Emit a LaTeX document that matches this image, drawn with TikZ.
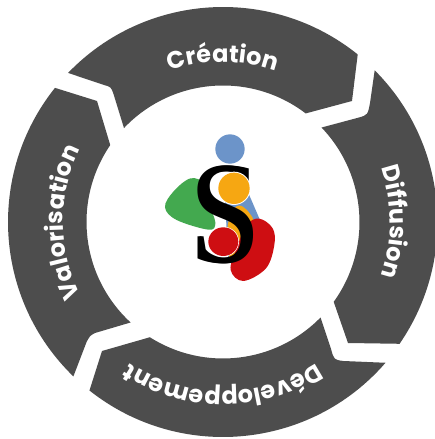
\documentclass[tikz,border=0pt]{standalone}
\usepackage{fontspec}
\usetikzlibrary{decorations.text}
\newfontfamily\ringfont{Poppins}
\newfontfamily\essefont{Liberation Serif}
\newcommand{\ringstyle}{\ringfont\bfseries\fontsize{24}{24}\selectfont\color{white}}
\definecolor{ringgrey}{HTML}{4D4D4D}
\definecolor{logoblue}{HTML}{6C94C9}
\definecolor{logoorange}{HTML}{F6A712}
\definecolor{logogreen}{HTML}{43A94F}
\definecolor{logored}{HTML}{CE0E12}
\tikzset{
  segment/.style={fill=ringgrey},
  blob/.style={smooth cycle,tension=0.6},
  essestyle/.style={inner sep=0pt,font=\essefont\fontsize{146}{146}\selectfont,xscale=0.86,transform shape}
}
\begin{document}
\begin{tikzpicture}[x=1pt,y=1pt]
\useasboundingbox (0,0) rectangle (435,439);
\fill[white] (0,0) rectangle (435,439);
\coordinate (C) at (223,217);
% Creation
\fill[segment] ([shift={(136.1:215)}]C) arc[start angle=136.1,end angle=51.2,radius=215]
  -- (352,338) -- ([shift={(52.7:136.5)}]C) arc[start angle=52.7,end angle=136.5,radius=136.5]
  -- (113.5,345) .. controls (111,352) .. (104,354) -- cycle;
% Diffusion
\fill[segment] ([shift={(45:214.5)}]C) arc[start angle=45,end angle=-34.6,radius=214.5]
  -- (348,96) -- ([shift={(-35.8:136.5)}]C) arc[start angle=-35.8,end angle=43.8,radius=136.5]
  -- (358.3,321.3) .. controls (367.7,324) .. (370,336) -- cycle;
% Developpement
\fill[segment] ([shift={(-40.9:215)}]C) arc[start angle=-40.9,end angle=-128.4,radius=215]
  -- (102,88) -- ([shift={(-122.4:136.5)}]C) arc[start angle=-122.4,end angle=-44.4,radius=136.5]
  -- (331,90) .. controls (334,79.3) .. (343.3,78) -- cycle;
% Valorisation
\fill[segment] ([shift={(141.4:215)}]C) arc[start angle=141.4,end angle=225.9,radius=215]
  -- (86.7,97.3) .. controls (90,103.3) .. (95,106) -- ([shift={(227.4:136.5)}]C)
  arc[start angle=227.4,end angle=145.7,radius=136.5] -- (97,338) -- cycle;
% Labels
\path[decorate,decoration={text along path,text align=center,text={|\ringstyle|Cr{é}ation}}]
  ([shift={(130:160)}]C) arc[start angle=130,end angle=50,radius=160];
\path[decorate,decoration={text along path,text align=center,text={|\ringstyle|Diffusion}}]
  ([shift={(45:167)}]C) arc[start angle=45,end angle=-45,radius=167];
\path[decorate,decoration={text along path,text align=center,text={|\ringstyle|D{é}veloppement}}]
  ([shift={(-35:169)}]C) arc[start angle=-35,end angle=-145,radius=169];
\path[decorate,decoration={text along path,text align=center,text={|\ringstyle|Valorisation}}]
  ([shift={(225:160)}]C) arc[start angle=225,end angle=135,radius=160];
% Logo
\begin{scope}[x=0.3333pt,y=-0.3333pt,shift={(140pt,319pt)}]
  \fill[logoblue] (270,87) circle[radius=44];
  \fill[logoblue] (255,240) -- (322,212) -- (360,300) -- (300,400) -- (265,418) -- cycle;
  \fill[logogreen] plot[blob] coordinates {(152,175) (195,195) (215,270) (226,312) (205,329) (110,300) (75,262) (100,215)};
  \fill[logoorange] plot[blob] coordinates {(278,272) (305,258) (340,300) (325,350) (300,400) (270,420) (262,330)};
  \fill[logored] plot[blob] coordinates {(358,296) (398,325) (403,375) (378,445) (310,483) (272,450) (290,385) (320,315)};
  \node[essestyle] (esse) at (254,286) {S};
  \node[essestyle] (esseb) at (258,286) {S};
  \fill[white] (282,205) circle[radius=50];
  \fill[logoorange] (282,205) circle[radius=47];
  \fill[white] (250,365) ellipse[x radius=47,y radius=45];
  \fill[logored] (250,365) ellipse[x radius=45,y radius=43];
\end{scope}
\end{tikzpicture}
\end{document}
